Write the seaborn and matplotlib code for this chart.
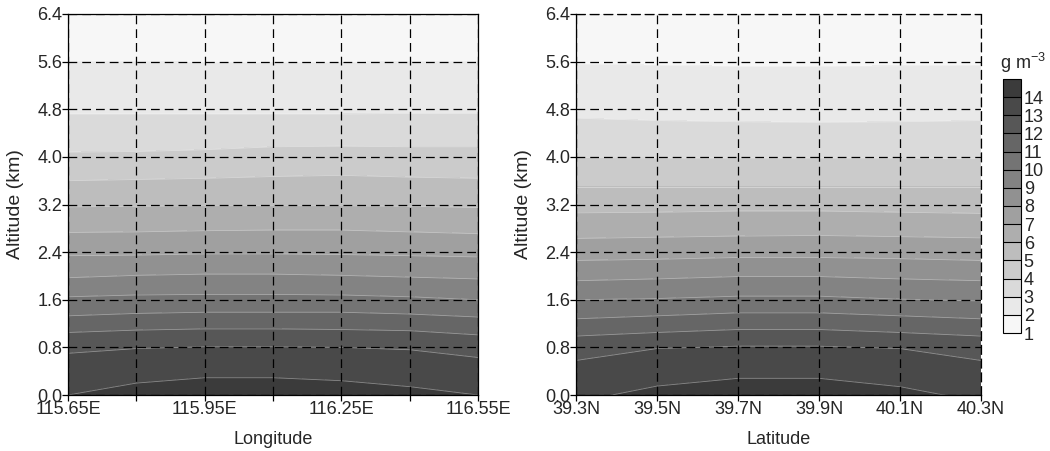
#
# water vapour density cross sections (longitude / latitude vs altitude)
#
import numpy as np
import matplotlib
matplotlib.use('Agg')
import matplotlib.pyplot as plt
import seaborn as sns
#
# output file
out1 = 'out.png'
#
#---
# data
#---
# contour levels (g m-3), boundaries of the filled bands
levels_gm3 = [14, 13, 12, 11, 10, 9, 8, 7, 6, 5, 4, 3, 2]
# longitude section: grid columns
lon_pts = [115.65, 115.80, 115.95, 116.10, 116.25, 116.40, 116.55]
# altitude (km) where each level is crossed, one row per level
lon_heights = [
    [0.00, 0.20, 0.29, 0.29, 0.24, 0.14, 0.00],
    [0.70, 0.78, 0.81, 0.81, 0.80, 0.76, 0.63],
    [1.05, 1.09, 1.11, 1.11, 1.10, 1.08, 1.01],
    [1.33, 1.37, 1.39, 1.39, 1.39, 1.36, 1.31],
    [1.65, 1.68, 1.69, 1.69, 1.68, 1.65, 1.60],
    [1.97, 2.01, 2.03, 2.03, 2.01, 1.98, 1.95],
    [2.34, 2.35, 2.37, 2.37, 2.36, 2.34, 2.32],
    [2.73, 2.74, 2.76, 2.77, 2.77, 2.74, 2.71],
    [3.16, 3.17, 3.18, 3.18, 3.18, 3.17, 3.15],
    [3.60, 3.62, 3.64, 3.67, 3.69, 3.66, 3.64],
    [4.08, 4.09, 4.12, 4.17, 4.18, 4.17, 4.17],
    [4.72, 4.72, 4.72, 4.72, 4.72, 4.73, 4.73],
    [5.60, 5.60, 5.59, 5.59, 5.59, 5.60, 5.60],
]
# latitude section: grid columns
lat_pts = [39.3, 39.5, 39.7, 39.9, 40.1, 40.3]
lat_heights = [
    [-0.12, 0.15, 0.28, 0.28, 0.14, -0.12],
    [0.58, 0.78, 0.82, 0.82, 0.78, 0.58],
    [0.99, 1.05, 1.10, 1.10, 1.05, 0.99],
    [1.28, 1.33, 1.38, 1.38, 1.33, 1.28],
    [1.60, 1.62, 1.66, 1.66, 1.61, 1.58],
    [1.92, 1.95, 1.99, 1.99, 1.95, 1.92],
    [2.26, 2.28, 2.31, 2.31, 2.29, 2.26],
    [2.63, 2.65, 2.67, 2.68, 2.66, 2.64],
    [3.06, 3.07, 3.09, 3.09, 3.07, 3.05],
    [3.50, 3.50, 3.50, 3.50, 3.50, 3.50],
    [3.99, 3.98, 3.98, 3.98, 3.98, 3.97],
    [4.65, 4.61, 4.59, 4.58, 4.59, 4.61],
    [5.56, 5.54, 5.52, 5.52, 5.53, 5.54],
]
# values just below the ground and above the top of the plot
surface_value = 14.9
top_value = 1.2
# tick labels
lon_ticks = [115.65, 115.95, 116.25, 116.55]
lon_labels = ['115.65E', '115.95E', '116.25E', '116.55E']
lon_minor = [115.80, 116.10, 116.40]
lat_ticks = [39.3, 39.5, 39.7, 39.9, 40.1, 40.3]
lat_labels = ['39.3N', '39.5N', '39.7N', '39.9N', '40.1N', '40.3N']
alt_ticks = [0.0, 0.8, 1.6, 2.4, 3.2, 4.0, 4.8, 5.6, 6.4]
# colour bar
cbar_levels = list(range(1, 16))
cbar_ticks = list(range(1, 15))
band_grays = ['#f7f7f7', '#e9e9e9', '#dadada', '#cbcbcb', '#bdbdbd',
              '#aeaeae', '#a0a0a0', '#919191', '#838383', '#747474',
              '#666666', '#575757', '#494949', '#3b3b3b']
#
sns.set_style('ticks')
plt.rcParams['font.family'] = ['Liberation Sans', 'DejaVu Sans']
plt.rcParams['mathtext.fontset'] = 'custom'
plt.rcParams['mathtext.rm'] = 'Liberation Sans'
#
#---
# build a curvilinear grid: x = column, y = height of each level
#---
def build_grid(cols, heights):
    rows_y = [[-0.4] * len(cols)] + heights + [[6.8] * len(cols)]
    rows_z = [surface_value] + levels_gm3 + [top_value]
    X = np.array([cols] * len(rows_y), dtype=float)
    Y = np.array(rows_y, dtype=float)
    Z = np.array([[v] * len(cols) for v in rows_z], dtype=float)
    return X, Y, Z
#
#---
# draw one section
#---
def draw_section(ax, cols, heights, xlabel):
    X, Y, Z = build_grid(cols, heights)
    cs = ax.contourf(X, Y, Z, levels=cbar_levels, colors=band_grays)
    ax.contour(X, Y, Z, levels=sorted(levels_gm3), colors='white',
               linewidths=0.6, alpha=0.4)
    ax.set_ylim(0, 6.4)
    ax.set_yticks(alt_ticks)
    ax.set_yticklabels(['%.1f' % a for a in alt_ticks])
    ax.grid(True, axis='y', which='major', color='black',
            linestyle=(0, (7, 4)), linewidth=0.9)
    ax.set_axisbelow(False)
    for s in ax.spines.values():
        s.set_linewidth(0.9)
        s.set_color('black')
    ax.tick_params(which='both', direction='out', length=4, width=0.9,
                   labelsize=13, pad=0, color='black')
    ax.tick_params(axis='x', pad=0.5)
    ax.set_xlabel(xlabel, fontsize=13)
    ax.set_ylabel('Altitude (km)', fontsize=14)
    ax.xaxis.set_label_coords(0.5, -0.095)
    ax.yaxis.set_label_coords(-0.108, 0.5)
    return cs
#
#-----
# main
#-----
fig = plt.figure(figsize=(10.5, 4.51), dpi=100)
W, H = 1050.0, 451.0
ax1 = fig.add_axes([68 / W, 1 - 395 / H, 410 / W, 381 / H])
ax2 = fig.add_axes([576 / W, 1 - 395 / H, 405 / W, 381 / H])
cax = fig.add_axes([1003 / W, 1 - 333 / H, 18 / W, 254 / H])
#
cs = draw_section(ax1, lon_pts, lon_heights, 'Longitude')
ax1.set_xlim(lon_pts[0], lon_pts[-1])
ax1.set_xticks(lon_ticks)
ax1.set_xticklabels(lon_labels)
ax1.set_xticks(lon_minor, minor=True)
ax1.grid(True, axis='x', which='both', color='black',
         linestyle=(0, (7, 4)), linewidth=0.9)
#
draw_section(ax2, lat_pts, lat_heights, 'Latitude')
ax2.set_xlim(lat_pts[0], lat_pts[-1])
ax2.set_xticks(lat_ticks)
ax2.set_xticklabels(lat_labels)
ax2.grid(True, axis='x', which='major', color='black',
         linestyle=(0, (7, 4)), linewidth=0.9)
# dashed top and right frame on the latitude panel
ax2.spines['top'].set_linestyle((0, (7, 4)))
ax2.spines['right'].set_linestyle((0, (7, 4)))
#
# colour bar
cbar = fig.colorbar(cs, cax=cax, ticks=cbar_ticks, drawedges=True)
cbar.outline.set_linewidth(0.8)
cbar.outline.set_edgecolor('black')
cbar.dividers.set_color('black')
cbar.dividers.set_linewidth(0.8)
cbar.ax.tick_params(length=0, labelsize=13, pad=2)
fig.text(1023 / W, 1 - 63 / H, r'g m$^{\mathrm{-3}}$', ha='center',
         va='center', fontsize=13)
#
plt.savefig(out1, dpi=100)
plt.close()
